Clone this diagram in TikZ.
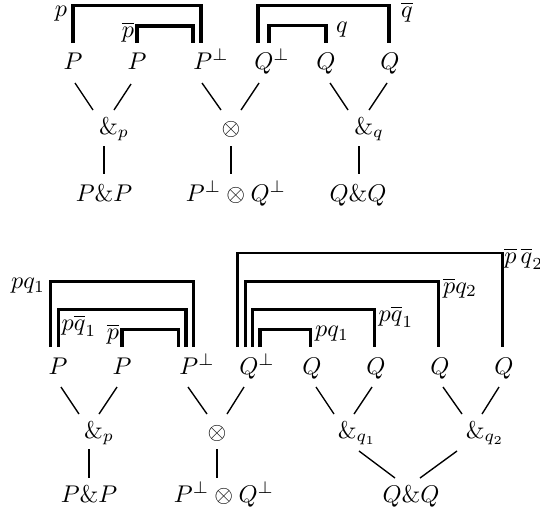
\documentclass[tikz,border=0pt]{standalone}
\begin{document}
\begin{tikzpicture}[x=0.4348pt,y=-0.4348pt,
  lbl/.style={inner sep=0pt,anchor=base,scale=1.05},
  tag/.style={inner sep=0pt,scale=1.05},
  edge/.style={line width=0.6pt},
  stem/.style={line width=0.95pt},
  link/.style={line width=1.35pt},
  outerlink/.style={line width=1.1pt}]
\useasboundingbox (0,0) rectangle (540,510);
% ---------- top diagram ----------
\node[lbl] (tP1) at (73,69) {$P$};
\node[lbl] (tP2) at (137,69) {$P$};
\node[lbl] (tPp) at (211,69) {$P^\perp$};
\node[lbl] (tQp) at (272,69) {$Q^\perp$};
\node[lbl] (tQ1) at (326,69) {$Q$};
\node[lbl] (tQ2) at (390,69) {$Q$};
\node[lbl] (tAp) at (114,134) {$\&_p$};
\node[lbl] (tT) at (231,135) {$\otimes$};
\node[lbl] (tAq) at (369,134) {$\&_q$};
\node[lbl] (tPP) at (104,201) {$P\&P$};
\node[lbl] (tPQ) at (236,201) {$P^\perp\otimes Q^\perp$};
\node[lbl] (tQQ) at (358,201) {$Q\&Q$};
\node[tag] (tlp) at (61,13.5) {$p$};
\node[tag] (tlpb) at (128,32) {$\overline{p}$};
\node[tag] (tlqb) at (407,12) {$\overline{q}$};
\node[tag] (tlq) at (342,30) {$q$};

\draw[edge] ([shift={(2,14)}]tP1.base) -- ([shift={(-21,-24)}]tAp.base);
\draw[edge] ([shift={(-6,15)}]tP2.base) -- ([shift={(0,-24)}]tAp.base);
\draw[edge] ([shift={(-9,14)}]tPp.base) -- ([shift={(-10,-25)}]tT.base);
\draw[edge] ([shift={(-13,14)}]tQp.base) -- ([shift={(10,-25)}]tT.base);
\draw[edge] ([shift={(4,14)}]tQ1.base) -- ([shift={(-21,-24)}]tAq.base);
\draw[edge] ([shift={(-3,14)}]tQ2.base) -- ([shift={(0,-24)}]tAq.base);
\draw[stem] ([shift={(-10,12)}]tAp.base) -- ([shift={(0,-27)}]tPP.base);
\draw[stem] ([shift={(0,11)}]tT.base) -- ([shift={(-5,-27)}]tPQ.base);
\draw[stem] ([shift={(-10,12)}]tAq.base) -- ([shift={(1,-27)}]tQQ.base);

\draw[link] ([shift={(0,-26)}]tP1.base) -- ++(0,-37.3) -| ([shift={(-10,-26)}]tPp.base);
\draw[link] ([shift={(0,-26)}]tP2.base) -- ++(0,-17) -| ([shift={(-18,-26)}]tPp.base);
\draw[link] ([shift={(-14,-26)}]tQp.base) -- ++(0,-37.3) -| ([shift={(-1,-26)}]tQ2.base);
\draw[link] ([shift={(-3,-26)}]tQp.base) -- ++(0,-17.3) -| ([shift={(0,-26)}]tQ1.base);

% ---------- bottom diagram ----------
\node[lbl] (bP1) at (58,374) {$P$};
\node[lbl] (bP2) at (122,374) {$P$};
\node[lbl] (bPp) at (197,374) {$P^\perp$};
\node[lbl] (bQp) at (257,374) {$Q^\perp$};
\node[lbl] (bQ1) at (312,374) {$Q$};
\node[lbl] (bQ2) at (376,374) {$Q$};
\node[lbl] (bQ3) at (440,374) {$Q$};
\node[lbl] (bQ4) at (504,374) {$Q$};
\node[lbl] (bAp) at (99,438) {$\&_p$};
\node[lbl] (bT) at (217,439) {$\otimes$};
\node[lbl] (bAq1) at (357,438) {$\&_{q_1}$};
\node[lbl] (bAq2) at (485,438) {$\&_{q_2}$};
\node[lbl] (bPP) at (89,502) {$P\&P$};
\node[lbl] (bPQ) at (224,502) {$P^\perp\otimes Q^\perp$};
\node[lbl] (bQQ) at (411,502) {$Q\&Q$};
\node[tag] (blpq1) at (28,286) {$pq_1$};
\node[tag] (blpqb1) at (79,326) {$p\overline{q}_1$};
\node[tag] (blpb) at (113,334) {$\overline{p}$};
\node[tag,anchor=west] (blpbqb2) at (504,259) {$\overline{p}\,\overline{q}_2$};
\node[tag] (blpbq2) at (460,288) {$\overline{p}q_2$};
\node[tag] (blpqb1r) at (396,317) {$p\overline{q}_1$};
\node[tag] (blpq1r) at (332,334) {$pq_1$};

\draw[edge] ([shift={(3,13)}]bP1.base) -- ([shift={(-20,-24)}]bAp.base);
\draw[edge] ([shift={(-5,13)}]bP2.base) -- ([shift={(0,-24)}]bAp.base);
\draw[edge] ([shift={(-9,13)}]bPp.base) -- ([shift={(-10,-25)}]bT.base);
\draw[edge] ([shift={(-13,13)}]bQp.base) -- ([shift={(10,-25)}]bT.base);
\draw[edge] ([shift={(4,13)}]bQ1.base) -- ([shift={(-23,-24)}]bAq1.base);
\draw[edge] ([shift={(-4,13)}]bQ2.base) -- ([shift={(-3,-24)}]bAq1.base);
\draw[edge] ([shift={(3,13)}]bQ3.base) -- ([shift={(-23,-24)}]bAq2.base);
\draw[edge] ([shift={(-5,13)}]bQ4.base) -- ([shift={(-3,-24)}]bAq2.base);
\draw[stem] ([shift={(-10,11)}]bAp.base) -- ([shift={(0,-24)}]bPP.base);
\draw[stem] ([shift={(0,10)}]bT.base) -- ([shift={(-7,-24)}]bPQ.base);
\draw[edge] ([shift={(2,13)}]bAq1.base) -- ([shift={(-16,-24)}]bQQ.base);
\draw[edge] ([shift={(-28,13)}]bAq2.base) -- ([shift={(9,-24)}]bQQ.base);

\draw[link] ([shift={(-7.3,-27)}]bP1.base) -- ++(0,-65.7) -| ([shift={(-3.7,-27)}]bPp.base);
\draw[link] ([shift={(0.3,-27)}]bP1.base) -- ++(0,-37.7) -| ([shift={(-11,-27)}]bPp.base);
\draw[link] ([shift={(0,-27)}]bP2.base) -- ++(0,-17.4) -| ([shift={(-18.7,-27)}]bPp.base);
\draw[outerlink] ([shift={(-19.5,-27)}]bQp.base) -- ++(0,-94) -| ([shift={(-1.3,-27)}]bQ4.base);
\draw[link] ([shift={(-11.5,-27)}]bQp.base) -- ++(0,-65.7) -| ([shift={(-1.7,-27)}]bQ3.base);
\draw[link] ([shift={(-4.5,-27)}]bQp.base) -- ++(0,-37.7) -| ([shift={(-1.7,-27)}]bQ2.base);
\draw[link] ([shift={(3,-27)}]bQp.base) -- ++(0,-17.4) -| ([shift={(-1.3,-27)}]bQ1.base);
\end{tikzpicture}
\end{document}
